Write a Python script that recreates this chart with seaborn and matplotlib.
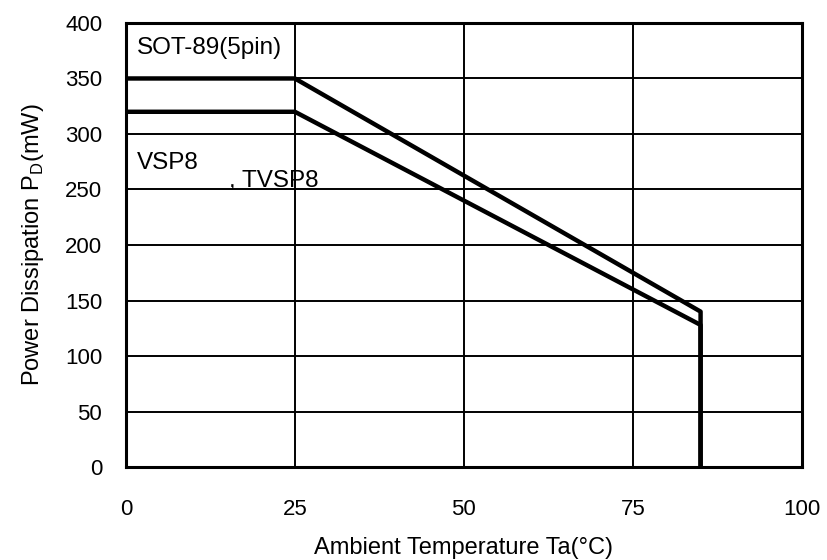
import pandas as pd
import matplotlib
matplotlib.use('Agg')
import matplotlib.pyplot as plt
import seaborn as sns

# Derating curve data
temp = [0, 25, 85, 85]
sot89 = [350, 350, 140, 0]
vsp8 = [320, 320, 128, 0]
x_ticks = [0, 25, 50, 75, 100]
y_ticks = [0, 50, 100, 150, 200, 250, 300, 350, 400]

df = pd.DataFrame({
    'Ta': temp * 2,
    'Pd': sot89 + vsp8,
    'pkg': ['SOT-89(5pin)'] * len(temp) + ['VSP8, TVSP8'] * len(temp),
})

sns.set_style('white')
plt.rcParams['font.family'] = ['Liberation Sans', 'DejaVu Sans']
plt.rcParams['mathtext.fontset'] = 'custom'
plt.rcParams['mathtext.rm'] = 'Liberation Sans'
plt.rcParams['text.color'] = 'black'
plt.rcParams['axes.labelcolor'] = 'black'
plt.rcParams['xtick.color'] = 'black'
plt.rcParams['ytick.color'] = 'black'

fig = plt.figure(figsize=(8.28, 5.6), dpi=100)
ax = fig.add_axes([0.152, 0.166, 0.8166, 0.793])

sns.lineplot(data=df, x='Ta', y='Pd', units='pkg', estimator=None, sort=False,
             color='black', linewidth=3.2, ax=ax, legend=False)

ax.set_xlim(0, 100)
ax.set_ylim(0, 400)
ax.set_xticks(x_ticks)
ax.set_yticks(y_ticks)
ax.grid(True, color='black', linewidth=1.4)
ax.set_axisbelow(True)
for s in ax.spines.values():
    s.set_visible(True)
    s.set_color('black')
    s.set_linewidth(2.2)

ax.tick_params(axis='both', length=0, labelsize=16)
ax.tick_params(axis='y', pad=17)
ax.tick_params(axis='x', pad=23)
ax.set_xlabel('Ambient Temperature Ta(°C)', fontsize=17, labelpad=12)
ax.set_ylabel('Power Dissipation P$_\\mathregular{D}$(mW)', fontsize=17, labelpad=14)

ax.text(1.6, 377, 'SOT-89(5pin)', fontsize=17.5, va='center', ha='left')
ax.text(1.6, 274, 'VSP8', fontsize=17.5, va='center', ha='left')
ax.text(15.2, 258, ', TVSP8', fontsize=17.5, va='center', ha='left')

fig.savefig('out.png', dpi=100)
